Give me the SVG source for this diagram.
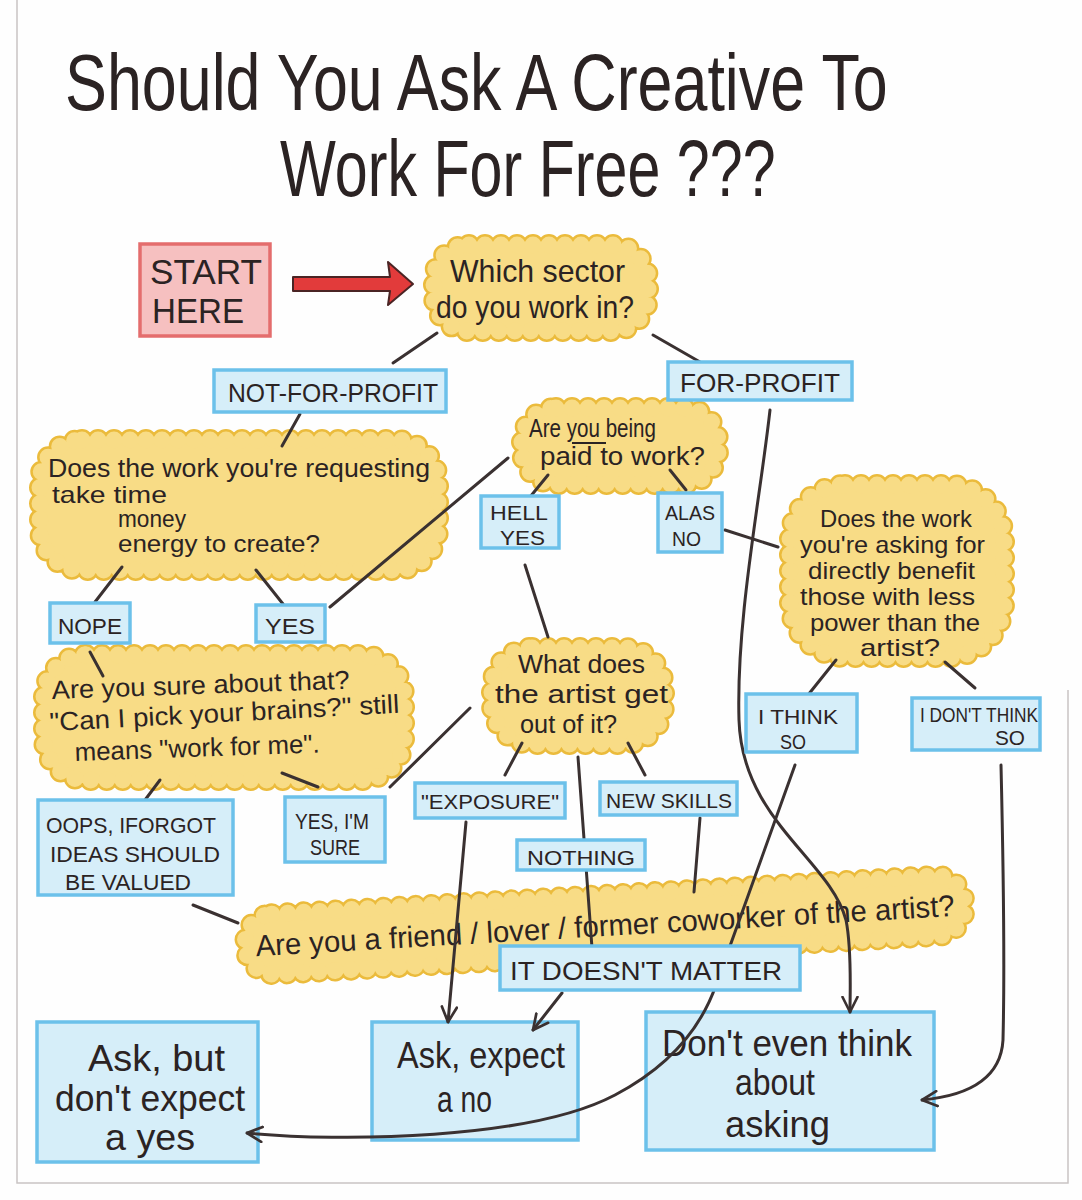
<svg xmlns="http://www.w3.org/2000/svg" width="1082" height="1200" viewBox="0 0 1082 1200">
<defs>
<style>
.t{font-family:"Liberation Sans",Arial,sans-serif;fill:#2b2323}
.cl-o{fill:#f2ca58;stroke:#ebbb3c;stroke-width:22;stroke-dasharray:0 16;stroke-linecap:round}
.cl-i{fill:#f8dc86;stroke:#f8dc86;stroke-width:17;stroke-dasharray:0 16;stroke-linecap:round}
.bx{fill:#d6eef9;stroke:#6cc1ea;stroke-width:3.5}
.st{fill:#f6c0c0;stroke:#e46d6d;stroke-width:3.5}
.ln{fill:none;stroke:#3a3131;stroke-width:3;stroke-linecap:round}
.frame{fill:none;stroke:#c9c4c4;stroke-width:1.5}
</style>
<marker id="ah" viewBox="0 0 12 12" refX="11" refY="6" markerWidth="18" markerHeight="18" markerUnits="userSpaceOnUse" orient="auto">
<path d="M1,1 L11,6 L1,11" fill="none" stroke="#3a3131" stroke-width="1.8" stroke-linecap="round" stroke-linejoin="round"/>
</marker>
</defs>
<rect width="1082" height="1200" fill="#fefefe"/>
<path class="frame" d="M17,0 L17,1183 L1068,1183 L1068,690"/>

<g id="title">
<text class="t" font-size="80" transform="translate(65 110) scale(0.785 1)">Should You Ask A Creative To</text>
<text class="t" font-size="80" transform="translate(280 196) scale(0.74 1)">Work For Free ???</text>
</g>

<!-- clouds -->
<g id="q-sector">
<rect class="cl-o" x="434" y="245" width="214" height="86" rx="35"/>
<rect class="cl-i" x="434" y="245" width="214" height="86" rx="35"/>
<text class="t" x="450" y="282" font-size="32" textLength="175" lengthAdjust="spacingAndGlyphs">Which sector</text>
<text class="t" x="436" y="318" font-size="32" textLength="198" lengthAdjust="spacingAndGlyphs">do you work in?</text>
</g>
<g id="q-requesting">
<rect class="cl-o" x="40" y="440" width="398" height="130" rx="42"/>
<rect class="cl-i" x="40" y="440" width="398" height="130" rx="42"/>
<text class="t" x="48" y="477" font-size="26" textLength="382" lengthAdjust="spacingAndGlyphs">Does the work you're requesting</text>
<text class="t" x="52" y="503" font-size="24" textLength="115" lengthAdjust="spacingAndGlyphs">take time</text>
<text class="t" x="118" y="527" font-size="23" textLength="68" lengthAdjust="spacingAndGlyphs">money</text>
<text class="t" x="118" y="552" font-size="24" textLength="202" lengthAdjust="spacingAndGlyphs">energy to create?</text>
</g>
<g id="q-paid">
<rect class="cl-o" x="522" y="408" width="196" height="76" rx="34"/>
<rect class="cl-i" x="522" y="408" width="196" height="76" rx="34"/>
<text class="t" x="529" y="437" font-size="25" textLength="127" lengthAdjust="spacingAndGlyphs">Are you being</text>
<line x1="572" y1="443" x2="606" y2="443" stroke="#2b2323" stroke-width="2"/>
<text class="t" x="540" y="465" font-size="25" textLength="165" lengthAdjust="spacingAndGlyphs">paid to work?</text>
</g>
<g id="q-benefit">
<rect class="cl-o" x="790" y="485" width="214" height="172" rx="55"/>
<rect class="cl-i" x="790" y="485" width="214" height="172" rx="55"/>
<text class="t" x="820" y="527" font-size="24" textLength="152" lengthAdjust="spacingAndGlyphs">Does the work</text>
<text class="t" x="800" y="553" font-size="24" textLength="185" lengthAdjust="spacingAndGlyphs">you're asking for</text>
<text class="t" x="808" y="579" font-size="24" textLength="167" lengthAdjust="spacingAndGlyphs">directly benefit</text>
<text class="t" x="800" y="605" font-size="24" textLength="175" lengthAdjust="spacingAndGlyphs">those with less</text>
<text class="t" x="810" y="631" font-size="24" textLength="170" lengthAdjust="spacingAndGlyphs">power than the</text>
<text class="t" x="860" y="656" font-size="24" textLength="80" lengthAdjust="spacingAndGlyphs">artist?</text>
</g>
<g id="q-sure">
<rect class="cl-o" x="44" y="655" width="360" height="125" rx="42"/>
<rect class="cl-i" x="44" y="655" width="360" height="125" rx="42"/>
<text class="t" x="52" y="699" font-size="26" textLength="298" lengthAdjust="spacingAndGlyphs" transform="rotate(-2 52 699)">Are you sure about that?</text>
<text class="t" x="50" y="731" font-size="26" textLength="350" lengthAdjust="spacingAndGlyphs" transform="rotate(-3 50 731)">"Can I pick your brains?" still</text>
<text class="t" x="75" y="761" font-size="26" textLength="245" lengthAdjust="spacingAndGlyphs" transform="rotate(-2 75 761)">means "work for me".</text>
</g>
<g id="q-what">
<rect class="cl-o" x="492" y="648" width="172" height="96" rx="40"/>
<rect class="cl-i" x="492" y="648" width="172" height="96" rx="40"/>
<text class="t" x="518" y="673" font-size="26" textLength="127" lengthAdjust="spacingAndGlyphs">What does</text>
<text class="t" x="495" y="703" font-size="26" textLength="173" lengthAdjust="spacingAndGlyphs">the artist get</text>
<text class="t" x="520" y="733" font-size="26" textLength="97" lengthAdjust="spacingAndGlyphs">out of it?</text>
</g>
<g id="q-friend" transform="rotate(-3.3 605 925)">
<rect class="cl-o" x="245" y="895" width="720" height="60" rx="28"/>
<rect class="cl-i" x="245" y="895" width="720" height="60" rx="28"/>
<text class="t" x="255" y="936" font-size="30" textLength="700" lengthAdjust="spacingAndGlyphs">Are you a friend / lover / former coworker of the artist?</text>
</g>

<!-- outcomes -->
<g id="r-askbut">
<rect class="bx" x="37" y="1022" width="221" height="140"/>
<text class="t" x="88" y="1071" font-size="37" textLength="137" lengthAdjust="spacingAndGlyphs">Ask, but</text>
<text class="t" x="55" y="1111" font-size="37" textLength="190" lengthAdjust="spacingAndGlyphs">don't expect</text>
<text class="t" x="105" y="1150" font-size="37" textLength="90" lengthAdjust="spacingAndGlyphs">a yes</text>
</g>
<g id="r-askexpect">
<rect class="bx" x="372" y="1022" width="206" height="118"/>
<text class="t" x="397" y="1068" font-size="37" textLength="168" lengthAdjust="spacingAndGlyphs">Ask, expect</text>
<text class="t" x="437" y="1112" font-size="37" textLength="55" lengthAdjust="spacingAndGlyphs">a no</text>
</g>
<g id="r-donteven">
<rect class="bx" x="646" y="1012" width="288" height="138"/>
<text class="t" x="662" y="1056" font-size="37" textLength="250" lengthAdjust="spacingAndGlyphs">Don't even think</text>
<text class="t" x="735" y="1095" font-size="37" textLength="80" lengthAdjust="spacingAndGlyphs">about</text>
<text class="t" x="725" y="1137" font-size="37" textLength="105" lengthAdjust="spacingAndGlyphs">asking</text>
</g>

<!-- connectors -->
<g id="connectors">
<path d="M293,277 L390,277 L388,262 L413,284 L388,305 L390,291 L293,291 Z" fill="#e23b3b" stroke="#4a2424" stroke-width="2" stroke-linejoin="round"/>
<path class="ln" d="M437,333 L393,363"/>
<path class="ln" d="M653,335 L700,362"/>
<path class="ln" d="M300,414 L282,446"/>
<path class="ln" d="M122,567 L95,602"/>
<path class="ln" d="M256,570 L283,604"/>
<path class="ln" d="M330,607 L508,458"/>
<path class="ln" d="M548,475 L530,497"/>
<path class="ln" d="M670,470 L686,490"/>
<path class="ln" d="M725,530 L778,547"/>
<path class="ln" d="M525,565 L548,637"/>
<path class="ln" d="M90,652 L103,676"/>
<path class="ln" d="M160,780 L145,800"/>
<path class="ln" d="M282,773 L318,787"/>
<path class="ln" d="M390,787 L470,708"/>
<path class="ln" d="M522,743 L505,775"/>
<path class="ln" d="M628,743 L645,775"/>
<path class="ln" d="M578,757 L592,948"/>
<path class="ln" d="M700,818 L694,892"/>
<path class="ln" d="M193,905 L238,923"/>
<path class="ln" d="M836,660 L808,695"/>
<path class="ln" d="M945,662 L975,688"/>
<path class="ln" d="M770,410 C760,500 736,620 739,720 C742,820 830,860 846,920 C852,950 850,990 850,1012" marker-end="url(#ah)"/>
<path class="ln" d="M795,765 L716,985 C702,1025 672,1065 615,1095 C530,1140 340,1142 247,1133" marker-end="url(#ah)"/>
<path class="ln" d="M466,822 L448,1022" marker-end="url(#ah)"/>
<path class="ln" d="M562,993 L533,1030" marker-end="url(#ah)"/>
<path class="ln" d="M1001,765 C1003,850 1005,960 1003,1040 C1001,1075 975,1095 922,1100" marker-end="url(#ah)"/>
</g>

<!-- answer boxes -->
<g id="start">
<rect class="st" x="140" y="244" width="130" height="92"/>
<text class="t" x="150" y="284" font-size="35" textLength="112" lengthAdjust="spacingAndGlyphs">START</text>
<text class="t" x="152" y="323" font-size="35" textLength="92" lengthAdjust="spacingAndGlyphs">HERE</text>
</g>
<g id="a-notforprofit">
<rect class="bx" x="214" y="370" width="232" height="42"/>
<text class="t" x="228" y="402" font-size="25" textLength="210" lengthAdjust="spacingAndGlyphs">NOT-FOR-PROFIT</text>
</g>
<g id="a-forprofit">
<rect class="bx" x="668" y="362" width="184" height="38"/>
<text class="t" x="680" y="392" font-size="25" textLength="160" lengthAdjust="spacingAndGlyphs">FOR-PROFIT</text>
</g>
<g id="a-hellyes">
<rect class="bx" x="481" y="496" width="78" height="52"/>
<text class="t" x="490" y="520" font-size="20" textLength="58" lengthAdjust="spacingAndGlyphs">HELL</text>
<text class="t" x="500" y="545" font-size="20" textLength="45" lengthAdjust="spacingAndGlyphs">YES</text>
</g>
<g id="a-alasno">
<rect class="bx" x="658" y="493" width="64" height="59"/>
<text class="t" x="665" y="520" font-size="20" textLength="50" lengthAdjust="spacingAndGlyphs">ALAS</text>
<text class="t" x="672" y="546" font-size="20" textLength="29" lengthAdjust="spacingAndGlyphs">NO</text>
</g>
<g id="a-nope">
<rect class="bx" x="50" y="603" width="80" height="40"/>
<text class="t" x="58" y="634" font-size="22" textLength="64" lengthAdjust="spacingAndGlyphs">NOPE</text>
</g>
<g id="a-yes">
<rect class="bx" x="256" y="605" width="69" height="37"/>
<text class="t" x="265" y="634" font-size="22" textLength="50" lengthAdjust="spacingAndGlyphs">YES</text>
</g>
<g id="a-ithink">
<rect class="bx" x="746" y="694" width="111" height="58"/>
<text class="t" x="758" y="724" font-size="20" textLength="80" lengthAdjust="spacingAndGlyphs">I THINK</text>
<text class="t" x="780" y="749" font-size="20" textLength="26" lengthAdjust="spacingAndGlyphs">SO</text>
</g>
<g id="a-idontthink">
<rect class="bx" x="912" y="698" width="128" height="52"/>
<text class="t" x="920" y="722" font-size="20" textLength="118" lengthAdjust="spacingAndGlyphs">I DON'T THINK</text>
<text class="t" x="995" y="745" font-size="20" textLength="30" lengthAdjust="spacingAndGlyphs">SO</text>
</g>
<g id="a-oops">
<rect class="bx" x="38" y="800" width="195" height="95"/>
<text class="t" x="46" y="833" font-size="22" textLength="170" lengthAdjust="spacingAndGlyphs">OOPS, IFORGOT</text>
<text class="t" x="50" y="862" font-size="22" textLength="170" lengthAdjust="spacingAndGlyphs">IDEAS SHOULD</text>
<text class="t" x="65" y="890" font-size="22" textLength="126" lengthAdjust="spacingAndGlyphs">BE VALUED</text>
</g>
<g id="a-yessure">
<rect class="bx" x="285" y="797" width="100" height="65"/>
<text class="t" x="295" y="829" font-size="22" textLength="74" lengthAdjust="spacingAndGlyphs">YES, I'M</text>
<text class="t" x="310" y="855" font-size="22" textLength="50" lengthAdjust="spacingAndGlyphs">SURE</text>
</g>
<g id="a-exposure">
<rect class="bx" x="415" y="783" width="150" height="35"/>
<text class="t" x="421" y="809" font-size="21" textLength="138" lengthAdjust="spacingAndGlyphs">"EXPOSURE"</text>
</g>
<g id="a-newskills">
<rect class="bx" x="600" y="782" width="137" height="33"/>
<text class="t" x="606" y="808" font-size="21" textLength="126" lengthAdjust="spacingAndGlyphs">NEW SKILLS</text>
</g>
<g id="a-nothing">
<rect class="bx" x="517" y="840" width="128" height="30"/>
<text class="t" x="527" y="865" font-size="21" textLength="108" lengthAdjust="spacingAndGlyphs">NOTHING</text>
</g>
<g id="a-doesntmatter">
<rect class="bx" x="500" y="946" width="300" height="44"/>
<text class="t" x="510" y="980" font-size="26" textLength="272" lengthAdjust="spacingAndGlyphs">IT DOESN'T MATTER</text>
</g>
</svg>
